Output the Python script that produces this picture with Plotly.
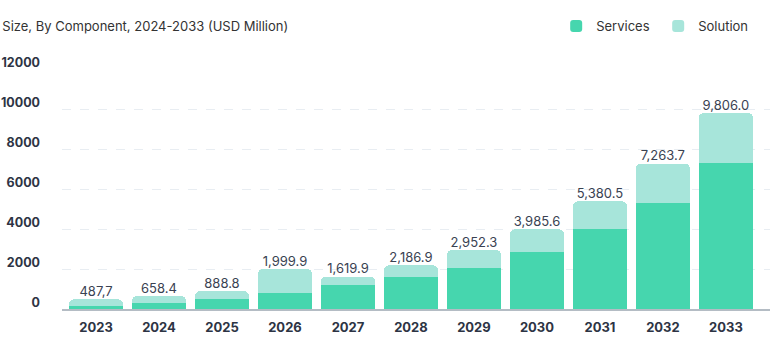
import plotly.graph_objects as go

# Market size by component (USD Million)
years = ["2023", "2024", "2025", "2026", "2027", "2028", "2029", "2030", "2031", "2032", "2033"]
totals = [487.7, 658.4, 888.8, 1999.9, 1619.9, 2186.9, 2952.3, 3985.6, 5380.5, 7263.7, 9806.0]
total_labels = ["487,7", "658.4", "888.8", "1,999.9", "1,619.9", "2,186.9", "2,952.3",
                "3,985.6", "5,380.5", "7,263.7", "9,806.0"]
services = [150, 300, 500, 780, 1200, 1600, 2050, 2850, 3980, 5300, 7300]
solution = [t - s for t, s in zip(totals, services)]

y_ticks = [0, 2000, 4000, 6000, 8000, 10000, 12000]

FONT = "Inter, 'Open Sans', sans-serif"
SERVICES_COLOR = "#46d6ae"
SOLUTION_COLOR = "#a7e5da"

fig = go.Figure()
fig.add_trace(go.Bar(x=years, y=services, name="Services",
                     marker=dict(color=SERVICES_COLOR, line=dict(width=0))))
fig.add_trace(go.Bar(x=years, y=solution, name="Solution",
                     marker=dict(color=SOLUTION_COLOR, line=dict(width=0))))

# Total value labels above each stack
fig.add_trace(go.Scatter(
    x=years, y=totals, mode="text", text=total_labels,
    textposition="top center", showlegend=False, hoverinfo="skip",
    textfont=dict(family=FONT, size=13, color="#3a4252"),
))

fig.update_layout(
    width=770, height=349,
    margin=dict(l=62, r=0, t=69, b=40, autoexpand=False),
    barmode="stack",
    bargap=0.14,
    barcornerradius=5,
    plot_bgcolor="white",
    paper_bgcolor="white",
    font=dict(family=FONT, size=13, color="#2d3444"),
    title=dict(text="Size, By Component, 2024-2033 (USD Million)",
               x=0.003, xanchor="left", y=0.925, yanchor="middle",
               font=dict(family=FONT, size=13, color="#333333")),
    legend=dict(orientation="h", x=0.698, xanchor="left", y=1.179, yanchor="middle",
                font=dict(family=FONT, size=13, color="#333333"),
                itemsizing="constant", traceorder="normal", entrywidth=57,
                bgcolor="rgba(0,0,0,0)"),
    xaxis=dict(
        type="category", range=[-0.54, 10.7],
        showgrid=False, showline=True, linecolor="#b4bcc4", linewidth=2,
        ticks="", ticklabelstandoff=5,
        tickfont=dict(family=FONT, size=13, color="#2d3444", weight="bold"),
        fixedrange=True,
    ),
    yaxis=dict(
        range=[0, 12000], tickvals=y_ticks, ticktext=[str(v) for v in y_ticks],
        showgrid=True, gridcolor="#e8edf2", griddash="dash", gridwidth=1,
        zeroline=False, showline=False, ticks="",
        ticklabelstandoff=21, ticklabelshift=-6,
        tickfont=dict(family=FONT, size=12.5, color="#2d3444", weight="bold"),
        fixedrange=True,
    ),
)

fig.write_html("out.html")
